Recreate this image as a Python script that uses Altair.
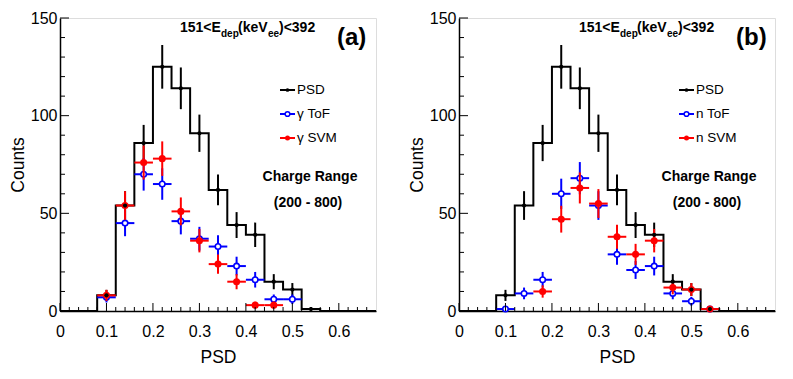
import altair as alt
import pandas as pd
import numpy as np

# ---------------- data ----------------
bin_centers = [0.10, 0.14, 0.18, 0.22, 0.26, 0.30, 0.34, 0.38, 0.42, 0.46, 0.50, 0.54]
psd_counts = [8, 54, 86, 125, 114, 91, 62, 44, 39, 15, 11, 1]

gamma_tof_x = [0.10, 0.14, 0.18, 0.22, 0.26, 0.30, 0.34, 0.38, 0.42, 0.46, 0.50]
gamma_tof_y = [7, 45, 70, 65, 46, 37, 33, 23, 16, 6, 6]
gamma_svm_x = [0.10, 0.14, 0.18, 0.22, 0.26, 0.30, 0.34, 0.38, 0.42, 0.46]
gamma_svm_y = [8, 54, 76, 78, 51, 36, 24, 15, 3, 3]

n_tof_x = [0.10, 0.14, 0.18, 0.22, 0.26, 0.30, 0.34, 0.38, 0.42, 0.46, 0.50, 0.54]
n_tof_y = [1, 9, 16, 60, 68, 54, 29, 21, 23, 9, 5, 1]
n_svm_x = [0.18, 0.22, 0.26, 0.30, 0.34, 0.38, 0.42, 0.46, 0.50, 0.54]
n_svm_y = [10, 47, 63, 55, 38, 29, 36, 12, 11, 1]

bin_half = 0.02
x_major = [0.0, 0.1, 0.2, 0.3, 0.4, 0.5, 0.6]
x_minor = [0.02, 0.04, 0.06, 0.08, 0.12, 0.14, 0.16, 0.18, 0.22, 0.24, 0.26, 0.28,
           0.32, 0.34, 0.36, 0.38, 0.42, 0.44, 0.46, 0.48, 0.52, 0.54, 0.56, 0.58,
           0.62, 0.64, 0.66]
y_major = [0, 50, 100, 150]
y_minor = [10, 20, 30, 40, 60, 70, 80, 90, 110, 120, 130, 140]

X_MAX = 0.68
Y_MAX = 150
W, H = 316, 293
FONT = "Liberation Sans"

xs = alt.Scale(domain=[0, X_MAX], nice=False, zero=False)
ys = alt.Scale(domain=[0, Y_MAX], nice=False)

X_AX = alt.Axis(values=x_major, format="~g", ticks=False, grid=False, labelFontSize=16,
                labelFont=FONT, labelColor="black", labelPadding=12, title="PSD",
                titleFont=FONT, titleFontSize=17.5, titleFontWeight="normal",
                titleColor="black", titlePadding=9, domainColor="black", domainWidth=1.5,
                labelFlush=False)
Y_AX = alt.Axis(values=y_major, ticks=False, grid=False, labelFontSize=16,
                labelFont=FONT, labelColor="black", labelPadding=3, title="Counts",
                titleFont=FONT, titleFontSize=17.5, titleFontWeight="normal",
                titleColor="black", titlePadding=3, domainColor="black", domainWidth=1.5,
                labelFlush=False)


def X(f):
    return alt.X(f, scale=xs, axis=X_AX, title="PSD")


def Y(f):
    return alt.Y(f, scale=ys, axis=Y_AX, title="Counts")


def hist_frame():
    xs_ = [0.0]
    ys_ = [0]
    for c, v in zip(bin_centers, psd_counts):
        xs_.append(round(c - bin_half, 4))
        ys_.append(v)
    xs_.append(round(bin_centers[-1] + bin_half, 4))
    ys_.append(0)
    xs_.append(X_MAX)
    ys_.append(0)
    return pd.DataFrame({"x": xs_, "y": ys_})


def err_frame(xv, yv):
    df = pd.DataFrame({"x": xv, "y": yv})
    e = np.sqrt(df["y"])
    df["ylo"] = df["y"] - e
    df["yhi"] = df["y"] + e
    df["xlo"] = df["x"] - bin_half
    df["xhi"] = df["x"] + bin_half
    return df


def series_layers(df, color, open_marker):
    base = alt.Chart(df)
    v = base.mark_rule(color=color, strokeWidth=2).encode(
        x=X("x:Q"), y=Y("ylo:Q"), y2="yhi:Q")
    h = base.mark_rule(color=color, strokeWidth=2).encode(
        x=X("xlo:Q"), x2="xhi:Q", y=Y("y:Q"))
    if open_marker:
        p = base.mark_point(shape="circle", filled=True, fill="white", stroke=color,
                            strokeWidth=1.6, size=30, opacity=1).encode(
            x=X("x:Q"), y=Y("y:Q"))
    else:
        p = base.mark_circle(color=color, size=50, opacity=1).encode(
            x=X("x:Q"), y=Y("y:Q"))
    return [v, h, p]


def text_px(txt, x, y, size, bold=False, align="left", baseline="alphabetic"):
    return alt.Chart(pd.DataFrame({"t": [txt]})).mark_text(
        font=FONT, fontSize=size, fontWeight="bold" if bold else "normal",
        align=align, baseline=baseline, color="black").encode(
        x=alt.value(x), y=alt.value(y), text="t:N")


def panel(tof_x, tof_y, svm_x, svm_y, labels, tag):
    hist = alt.Chart(hist_frame()).mark_line(
        interpolate="step-after", color="black", strokeWidth=2).encode(
        x=X("x:Q"), y=Y("y:Q"))

    psd = err_frame(bin_centers, psd_counts)
    psd_v = alt.Chart(psd).mark_rule(color="black", strokeWidth=2).encode(
        x=X("x:Q"), y=Y("ylo:Q"), y2="yhi:Q")
    psd_p = alt.Chart(psd).mark_circle(color="black", size=18, opacity=1).encode(
        x=X("x:Q"), y=Y("y:Q"))

    blue = series_layers(err_frame(tof_x, tof_y), "#0000ff", True)
    red = series_layers(err_frame(svm_x, svm_y), "#ff0000", False)

    xmaj = alt.Chart(pd.DataFrame({"x": x_major})).mark_rule(color="black", strokeWidth=1).encode(
        x=X("x:Q"), y=alt.value(H), y2=alt.value(H - 8))
    xmin = alt.Chart(pd.DataFrame({"x": x_minor})).mark_rule(color="black", strokeWidth=1).encode(
        x=X("x:Q"), y=alt.value(H), y2=alt.value(H - 4))
    ymaj = alt.Chart(pd.DataFrame({"y": y_major})).mark_rule(color="black", strokeWidth=1).encode(
        y=Y("y:Q"), x=alt.value(0), x2=alt.value(9))
    ymin = alt.Chart(pd.DataFrame({"y": y_minor})).mark_rule(color="black", strokeWidth=1).encode(
        y=Y("y:Q"), x=alt.value(0), x2=alt.value(5))

    texts = [
        text_px("151<E", 120, 14, 14, True),
        text_px("dep", 161, 19, 10, True),
        text_px("(keV", 178, 14, 14, True),
        text_px("ee", 208, 19, 10, True),
        text_px(")<392", 219, 14, 14, True),
        text_px(tag, 277, 27, 24, True),
        text_px("Charge Range", 250, 159, 14, True, "center", "middle"),
        text_px("(200 - 800)", 248, 185, 14, True, "center", "middle"),
    ]

    leg = []
    rows = [72, 96, 120]
    colors = ["black", "#0000ff", "#ff0000"]
    for i, (lab, col) in enumerate(zip(labels, colors)):
        d = pd.DataFrame({"t": [lab]})
        leg.append(alt.Chart(d).mark_rule(color=col, strokeWidth=2).encode(
            x=alt.value(220), x2=alt.value(235), y=alt.value(rows[i])))
        if i == 1:
            leg.append(alt.Chart(d).mark_point(shape="circle", filled=True, fill="white",
                                               stroke=col, strokeWidth=1.5, size=22, opacity=1).encode(
                x=alt.value(227.5), y=alt.value(rows[i])))
        else:
            leg.append(alt.Chart(d).mark_circle(color=col, size=25 if i == 2 else 14, opacity=1).encode(
                x=alt.value(227.5), y=alt.value(rows[i])))
        leg.append(text_px(lab, 237, rows[i], 13.5, False, "left", "middle"))

    layers = [hist, psd_v] + blue + red + [psd_p, xmaj, xmin, ymaj, ymin] + texts + leg
    return alt.layer(*layers).properties(width=W, height=H)


left = panel(gamma_tof_x, gamma_tof_y, gamma_svm_x, gamma_svm_y,
             ["PSD", "γ ToF", "γ SVM"], "(a)")
right = panel(n_tof_x, n_tof_y, n_svm_x, n_svm_y,
              ["PSD", "n ToF", "n SVM"], "(b)")

chart = alt.hconcat(left, right, spacing=26).properties(
    padding={"left": 0, "top": 1, "right": 0, "bottom": 0},
    background="white",
).configure_view(stroke="black", strokeWidth=1).configure(font=FONT)

chart.save("out.html", embed_options={"renderer": "svg", "actions": False})
